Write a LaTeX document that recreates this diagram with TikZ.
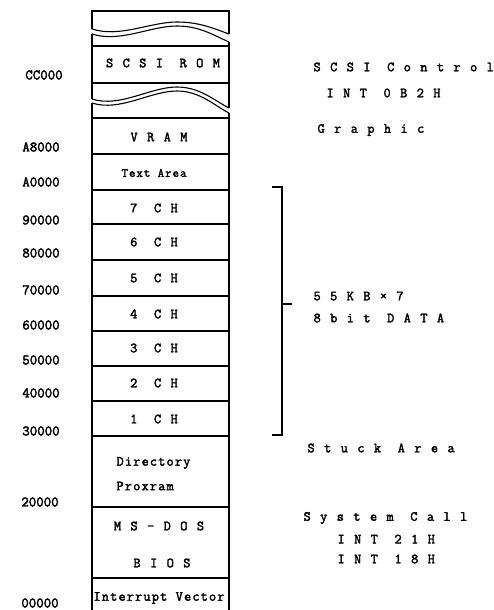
\documentclass[tikz,border=0pt]{standalone}
\usepackage{fontspec}
\newfontfamily\spacedf[FakeBold=2.2,LetterSpace=67]{Latin Modern Mono}
\newfontfamily\boxf[FakeBold=2.2,LetterSpace=8]{Latin Modern Mono}
\newfontfamily\addrf[FakeBold=2.5]{Latin Modern Mono}
\tikzset{every picture/.style={line width=1.1pt}}
\tikzset{
  spaced/.style={font=\spacedf\fontsize{14}{16}\selectfont, inner sep=0pt},
  boxtext/.style={font=\boxf\fontsize{14}{16}\selectfont, inner sep=0pt},
  smalltext/.style={font=\boxf\fontsize{12.5}{14}\selectfont, inner sep=0pt},
  addr/.style={font=\addrf\fontsize{14.5}{16}\selectfont, inner sep=0pt},
}
\begin{document}
\begin{tikzpicture}[x=1pt,y=1pt,yscale=-1,xscale=1]
\useasboundingbox (0,0) rectangle (494,610);
%Straight Lines: sides of the map
\draw    (92,29) -- (92,11) -- (229,11) -- (229,34) ;
\draw    (92,34) -- (92,99) ;
\draw    (229,42) -- (229,108) ;
\draw    (92,103) -- (92,610) ;
\draw    (229,113) -- (229,610) ;
%Curve Lines: cut marks
\draw    (92,29) .. controls (120,38) and (150,22) .. (177,22) .. controls (200,22) and (215,29) .. (229,34) ;
\draw    (92,34) .. controls (120,43) and (150,26) .. (177,26) .. controls (200,26) and (215,36) .. (229,42) ;
\draw    (92,99) .. controls (120,108) and (150,87) .. (177,87) .. controls (200,87) and (215,101) .. (229,108) ;
\draw    (92,103) .. controls (120,112) and (150,91) .. (177,91) .. controls (200,91) and (215,106) .. (229,113) ;
%Straight Lines: dividers
\draw    (92,46) -- (229,46) ;
\draw    (92,83) -- (229,83) ;
\draw    (92,118) -- (229,118) ;
\draw    (92,154) -- (229,154) ;
\draw    (92,190) -- (229,190) ;
\draw    (92,224) -- (229,224) ;
\draw    (92,260) -- (229,260) ;
\draw    (92,296) -- (229,296) ;
\draw    (92,331) -- (229,331) ;
\draw    (92,366) -- (229,366) ;
\draw    (92,401) -- (229,401) ;
\draw    (92,436) -- (229,436) ;
\draw    (92,507) -- (229,507) ;
\draw    (92,578) -- (229,578) ;
%Straight Lines: bracket
\draw    (272,187) -- (282,187) -- (282,435) -- (272,435) ;
\draw    (282,304) -- (292,304) ;
% Text Node: inside the map
\node [spaced] (scsirom) at (163,63) {SCSI ROM};
\node [spaced] (vram) at (159,137) {VRAM};
\node [smalltext] (textarea) at (154,173) {Text Area};
\node [spaced] (ch7) at (154,208) {7 CH};
\node [spaced] (ch6) at (154,242) {6 CH};
\node [spaced] (ch5) at (154,278) {5 CH};
\node [spaced] (ch4) at (154,314) {4 CH};
\node [spaced] (ch3) at (154,348) {3 CH};
\node [spaced] (ch2) at (154,383) {2 CH};
\node [spaced] (ch1) at (154,419) {1 CH};
\node [boxtext, anchor=west] (directory) at (116,463) {Directory};
\node [boxtext, anchor=west] (proxram) at (116,486) {Proxram};
\node [spaced] (msdos) at (159,526) {MS-DOS};
\node [spaced] (bios) at (162,563) {BIOS};
\node [boxtext] (intvec) at (159,598) {Interrupt Vector};
% Text Node: addresses
\node [addr] (addrCC) at (44,75) {CC000};
\node [addr] (addrA8) at (41,147) {A8000};
\node [addr] (addrA0) at (41,182) {A0000};
\node [addr] (addr90) at (41,220) {90000};
\node [addr] (addr80) at (41,253) {80000};
\node [addr] (addr70) at (41,290) {70000};
\node [addr] (addr60) at (41,325) {60000};
\node [addr] (addr50) at (41,360) {50000};
\node [addr] (addr40) at (41,393) {40000};
\node [addr] (addr30) at (41,431) {30000};
\node [addr] (addr20) at (40,502) {20000};
\node [addr] (addr00) at (40,603) {00000};
% Text Node: notes
\node [spaced, anchor=west] (scsictl) at (313,67) {SCSI Control};
\node [spaced, anchor=west] (int0b2) at (326,93) {INT 0B2H};
\node [spaced, anchor=west] (graphic) at (317,130) {Graphic};
\node [spaced, anchor=west] (chsize) at (313,296) {55KB×7};
\node [spaced, anchor=west] (chdata) at (313,318) {8bit DATA};
\node [spaced, anchor=west] (stuck) at (307,448) {Stuck Area};
\node [spaced, anchor=west] (syscall) at (303,518) {System Call};
\node [spaced, anchor=west] (int21) at (337,539) {INT 21H};
\node [spaced, anchor=west] (int18) at (337,559) {INT 18H};
\end{tikzpicture}
\end{document}
